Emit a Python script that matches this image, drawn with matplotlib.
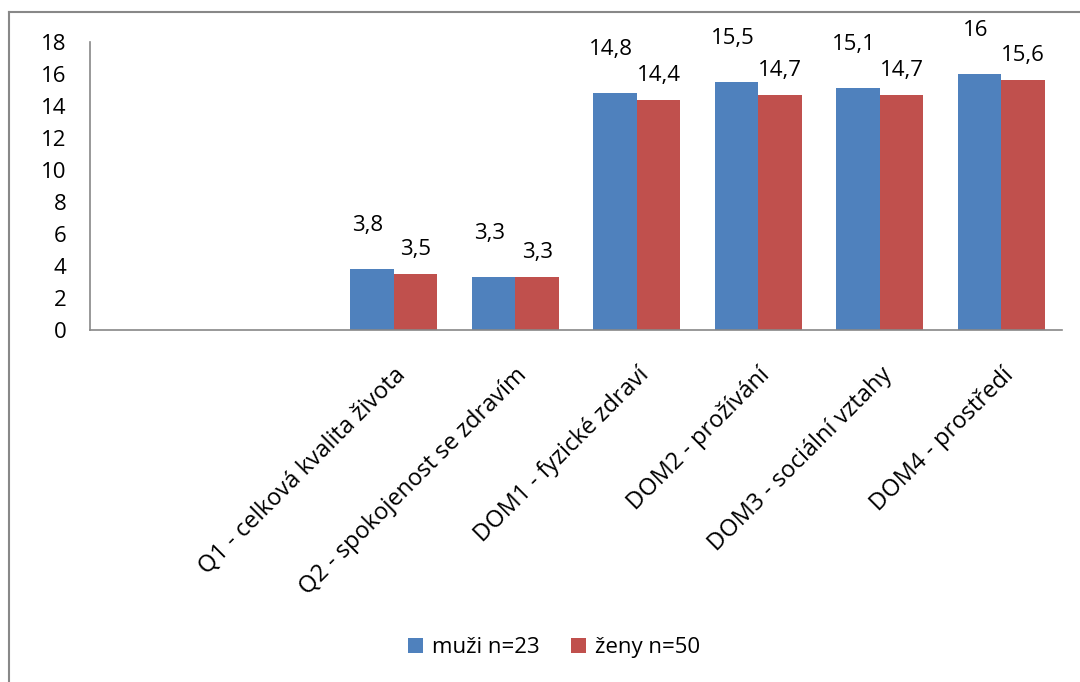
import numpy as np
import matplotlib.pyplot as plt
from matplotlib.lines import Line2D

plt.rcParams['font.family'] = ['Open Sans', 'DejaVu Sans']

# data
categories = ['', '', 'Q1 - celková kvalita života', 'Q2 - spokojenost se zdravím',
              'DOM1 - fyzické zdraví', 'DOM2 - prožívání',
              'DOM3 - sociální vztahy', 'DOM4 - prostředí']
muzi = [np.nan, np.nan, 3.8, 3.3, 14.8, 15.5, 15.1, 16.0]
zeny = [np.nan, np.nan, 3.5, 3.3, 14.4, 14.7, 14.7, 15.6]
yticks = [0, 2, 4, 6, 8, 10, 12, 14, 16, 18]

blue = '#4F81BD'
red = '#C0504D'
axis_grey = '#888888'
fs = 16

fig = plt.figure(figsize=(10.8, 6.82), dpi=100)
ax = fig.add_axes([90/1080, 1 - 330/682, (1062-90)/1080, (330-42)/682])

x = np.arange(len(categories))
w = 0.36
b1 = ax.bar(x - w/2, muzi, w, color=blue, label='muži n=23')
b2 = ax.bar(x + w/2, zeny, w, color=red, label='ženy n=50')

def fmt(v):
    s = ('%.1f' % v).replace('.', ',')
    return s[:-2] if s.endswith(',0') else s

for xi, v in zip(x, muzi):
    if not np.isnan(v):
        ax.annotate(fmt(v), (xi - w/2, v), xytext=(-4, 33), textcoords='offset pixels',
                    ha='center', va='bottom', fontsize=fs)
for xi, v in zip(x, zeny):
    if not np.isnan(v):
        ax.annotate(fmt(v), (xi + w/2, v), xytext=(0, 14), textcoords='offset pixels',
                    ha='center', va='bottom', fontsize=fs)

ax.set_xlim(-0.5, len(categories) - 0.5)
ax.set_ylim(0, 18)
ax.set_yticks(yticks)
ax.set_yticklabels([str(t) for t in yticks], fontsize=fs)
ax.set_xticks(x)
ax.set_xticklabels(categories, rotation=45, ha='right', rotation_mode='anchor', fontsize=17)
ax.tick_params(axis='both', length=0)
ax.tick_params(axis='y', pad=17)
ax.tick_params(axis='x', pad=24)

for s in ['top', 'right']:
    ax.spines[s].set_visible(False)
for s in ['left', 'bottom']:
    ax.spines[s].set_color(axis_grey)
    ax.spines[s].set_linewidth(1.2)

fig.legend(handles=[b1, b2], loc='center', bbox_to_anchor=(0.513, 0.05), ncol=2,
           frameon=False, fontsize=fs, handlelength=0.7, handleheight=0.7,
           handletextpad=0.4, columnspacing=1.4)

# outer frame (top and left visible)
fig.add_artist(Line2D([9/1080, 1], [1 - 12/682, 1 - 12/682], color=axis_grey, lw=1.5))
fig.add_artist(Line2D([9/1080, 9/1080], [0, 1 - 12/682], color=axis_grey, lw=1.5))

fig.savefig('out.png', dpi=100)
